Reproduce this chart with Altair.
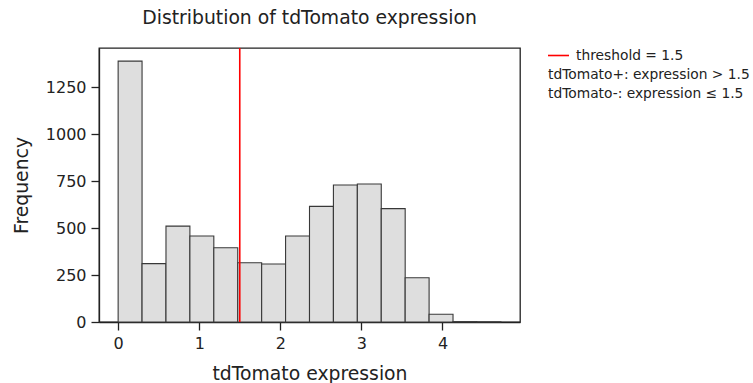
import altair as alt
import pandas as pd

# Histogram data
bin_starts = [0.0, 0.295, 0.59, 0.885, 1.18, 1.475, 1.77, 2.065, 2.36, 2.655,
              2.95, 3.245, 3.54, 3.835, 4.13, 4.425]
bin_ends = [0.295, 0.59, 0.885, 1.18, 1.475, 1.77, 2.065, 2.36, 2.655, 2.95,
            3.245, 3.54, 3.835, 4.13, 4.425, 4.72]
counts = [1390, 311, 511, 458, 396, 316, 309, 458, 616, 730, 735, 604, 236, 41, 2, 1]

threshold = [1.5]
x_ticks = [0, 1, 2, 3, 4]
y_ticks = [0, 250, 500, 750, 1000, 1250]
legend_lines = ["threshold = 1.5", "tdTomato+: expression > 1.5", "tdTomato-: expression \u2264 1.5"]

hist_df = pd.DataFrame({"start": bin_starts, "end": bin_ends, "count": counts})
thr_df = pd.DataFrame({"t": threshold})

FONT = "DejaVu Sans"
W, H = 421, 274

xscale = alt.Scale(domain=[-0.236, 4.956], nice=False, zero=False)
yscale = alt.Scale(domain=[0, 1460], nice=False)

bars = alt.Chart(hist_df).mark_rect(
    fill="#dedede", stroke="#383838", strokeWidth=1.1
).encode(
    x=alt.X("start:Q", scale=xscale,
            axis=alt.Axis(values=x_ticks, title="tdTomato expression", format="d")),
    x2="end:Q",
    y=alt.Y("count:Q", scale=yscale,
            axis=alt.Axis(values=y_ticks, title="Frequency", format="d")),
    y2=alt.datum(0),
)

rule = alt.Chart(thr_df).mark_rule(color="#ff0000", strokeWidth=1.6).encode(
    x=alt.X("t:Q", scale=xscale)
)

# legend (outside right, no frame)
leg_line = alt.Chart(thr_df).mark_rule(color="#ff0000", strokeWidth=1.6).encode(
    x=alt.value(449), x2=alt.value(470), y=alt.value(7.5)
)
leg_df = pd.DataFrame({"label": legend_lines, "row": [0, 1, 2],
                       "indent": [477, 449, 449]})
leg_text = alt.Chart(leg_df).mark_text(
    align="left", baseline="middle", font=FONT, fontSize=13.8, color="#222222"
).transform_calculate(
    ypos="7.5 + datum.row * 19.2"
).encode(
    text="label:N",
    x=alt.X("indent:Q", scale=None),
    y=alt.Y("ypos:Q", scale=None),
)

chart = alt.layer(bars, rule, leg_line, leg_text).properties(
    width=W, height=H,
    title=alt.TitleParams("Distribution of tdTomato expression", font=FONT,
                          fontSize=18.8, fontWeight="normal", color="#222222",
                          anchor="middle", offset=19),
    autosize=alt.AutoSizeParams(type="none"),
    padding={"left": 99, "top": 48, "right": 233, "bottom": 61},
).configure_view(
    stroke="#222222", strokeWidth=1.3
).configure_axis(
    labelFont=FONT, labelFontSize=16, labelColor="#222222",
    titleFont=FONT, titleFontSize=18.8, titleFontWeight="normal", titleColor="#222222",
    domainColor="#222222", domainWidth=1.3, tickColor="#222222", tickWidth=1.3,
    tickSize=8, grid=False, labelPadding=5
).configure_axisX(
    titlePadding=13
).configure_axisY(
    titlePadding=14
)

chart.save("out.html", embed_options={"renderer": "svg", "actions": False})
